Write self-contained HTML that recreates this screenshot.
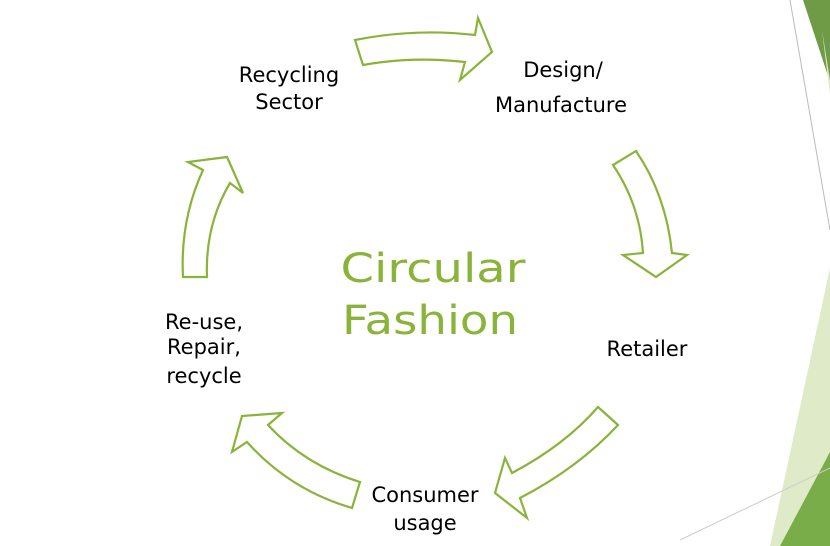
<!DOCTYPE html>
<html><head><style>
html,body{margin:0;padding:0;background:#fff;}
body{width:830px;height:546px;overflow:hidden;position:relative;}
svg{position:absolute;left:0;top:0;}
</style></head><body>
<svg width="830" height="546" viewBox="0 0 830 546">
  <polygon points="803,0 830,0 830,82" fill="#6f9b46"/>
  <polygon points="822,30 830,80 830,95" fill="#dfeac8"/>
  <line x1="790" y1="0" x2="830" y2="230" stroke="#bbb" stroke-width="1"/>
  <polygon points="830,268 830,546 770,546" fill="#dfeac8"/>
  <polygon points="830,452 830,546 780,546" fill="#79ad4a"/>
  <line x1="680" y1="540" x2="830" y2="468" stroke="#ccc" stroke-width="1"/>
  <g fill="none" stroke="#8ab33a" stroke-width="2.2" stroke-linejoin="miter">
    <path d="M355,40 Q415,28 475,35 L478,18 L492,52 L460,80 L465,62 Q412,56 363,65 Z"/>
    <path d="M636,151 Q666,195 672,253 L687,255 L656,277 L623,255 L643,253 Q640,205 613,165 Z"/>
    <path d="M618,425 Q578,468 520,498 L527,518 L495,493 L505,458 L512,473 Q565,445 598,407 Z"/>
    <path d="M360,482 Q305,465 268,425 L282,413 L242,416 L232,452 L247,442 Q290,490 352,508 Z"/>
    <path d="M207,277 Q205,225 230,183 L243,193 L227,157 L188,162 L203,170 Q180,220 183,277 Z"/>
  </g>
  <g font-family="'DejaVu Sans','Liberation Sans',sans-serif" font-size="21" fill="#000" text-anchor="middle">
    <text x="289" y="82">Recycling</text>
    <text x="289" y="109">Sector</text>
    <text x="563" y="77">Design/</text>
    <text x="561" y="112">Manufacture</text>
    <text x="647" y="356">Retailer</text>
    <text x="204" y="329">Re-use,</text>
    <text x="204" y="354">Repair,</text>
    <text x="204" y="383">recycle</text>
    <text x="425" y="502">Consumer</text>
    <text x="425" y="530">usage</text>
  </g>
  <g font-family="'DejaVu Sans','Liberation Sans',sans-serif" font-size="40" fill="#8ab33a" text-anchor="middle">
    <text x="433" y="282" textLength="185" lengthAdjust="spacingAndGlyphs">Circular</text>
    <text x="430" y="334" textLength="176" lengthAdjust="spacingAndGlyphs">Fashion</text>
  </g>
</svg>
</body></html>
